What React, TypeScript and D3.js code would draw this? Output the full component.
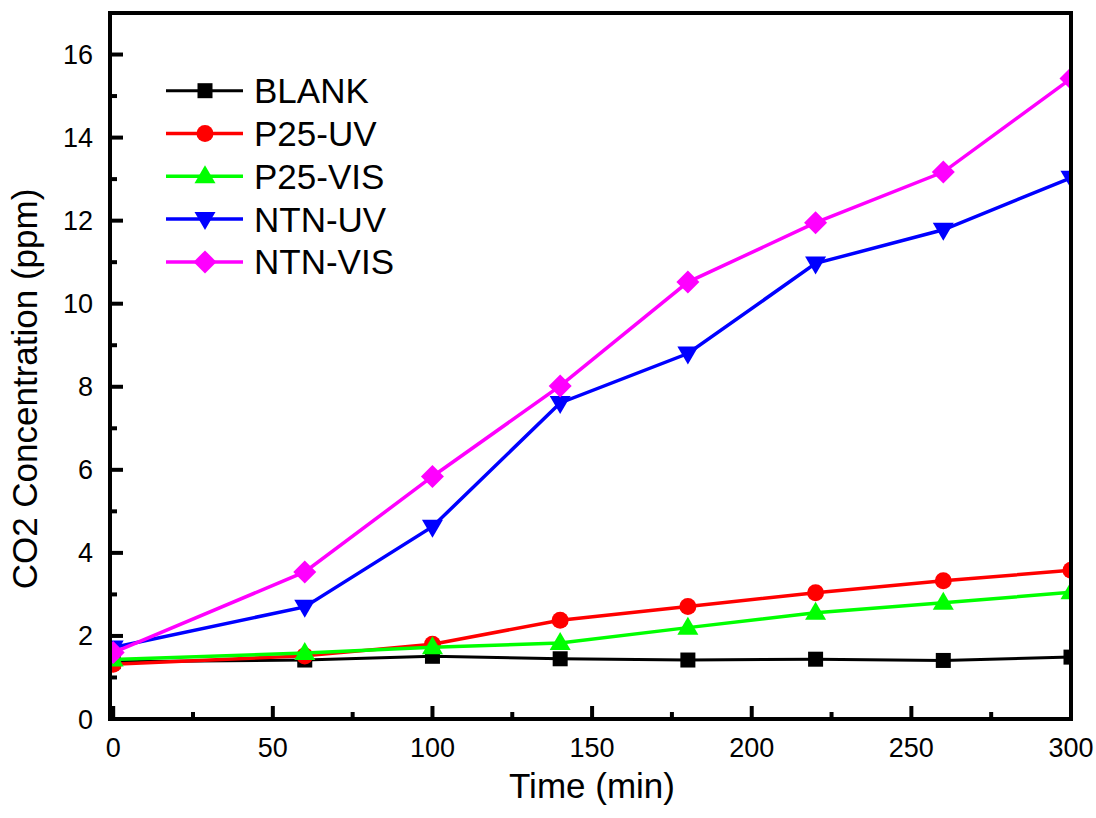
import React from "react";
import * as d3 from "d3";

const times = [0, 60, 100, 140, 180, 220, 260, 300];
const blank = [1.38, 1.42, 1.51, 1.45, 1.42, 1.44, 1.41, 1.49];
const p25uv = [1.32, 1.52, 1.8, 2.38, 2.71, 3.04, 3.33, 3.58];
const p25vis = [1.43, 1.59, 1.73, 1.83, 2.2, 2.56, 2.8, 3.05];
const ntnuv = [1.72, 2.7, 4.63, 7.61, 8.8, 10.97, 11.78, 13.03];
const ntnvis = [1.6, 3.54, 5.84, 8.02, 10.52, 11.95, 13.17, 15.42];
const seriesNames = ["BLANK", "P25-UV", "P25-VIS", "NTN-UV", "NTN-VIS"];
const seriesColors = ["#000000", "#ff0000", "#00ff00", "#0000ff", "#ff00ff"];
const seriesShapes = ["square", "circle", "triangle", "triangleDown", "diamond"];
const xTicks = [0, 50, 100, 150, 200, 250, 300];
const yTicks = [0, 2, 4, 6, 8, 10, 12, 14, 16];

const W = 1096;
const H = 818;
const L = 110, R = 1071, T = 13, B = 719;
const FONT = "'Liberation Sans', Arial, Helvetica, sans-serif";

function Marker({ shape, x, y, color }: { shape: string; x: number; y: number; color: string }) {
  if (shape === "square") return <rect x={x - 7.5} y={y - 7.5} width={15} height={15} fill={color} />;
  if (shape === "circle") return <circle cx={x} cy={y} r={8.5} fill={color} />;
  if (shape === "triangle")
    return <path d={`M${x},${y - 11} L${x + 10.5},${y + 7} L${x - 10.5},${y + 7} Z`} fill={color} />;
  if (shape === "triangleDown")
    return <path d={`M${x},${y + 11} L${x + 10.5},${y - 7} L${x - 10.5},${y - 7} Z`} fill={color} />;
  return <path d={`M${x},${y - 11.5} L${x + 11.5},${y} L${x},${y + 11.5} L${x - 11.5},${y} Z`} fill={color} />;
}

export default function App() {
  const x = d3.scaleLinear().domain([-1, 300]).range([L, R]);
  const y = d3.scaleLinear().domain([0, 17]).range([B, T]);
  const data = [blank, p25uv, p25vis, ntnuv, ntnvis];
  const line = d3
    .line<number>()
    .x((_, i) => x(times[i]))
    .y((d) => y(d));
  const xMinor = d3.range(25, 300, 50);
  const yMinor = d3.range(1, 17, 2);

  return (
    <svg width={W} height={H} style={{ position: "absolute", left: 0, top: 0 }} fontFamily={FONT}>
      <rect width={W} height={H} fill="#fff" />
      <defs>
        <clipPath id="plot">
          <rect x={L} y={T} width={R - L} height={B - T} />
        </clipPath>
      </defs>
      <g clipPath="url(#plot)">
        {data.map((vals, si) => (
          <g key={si}>
            <path d={line(vals) || ""} fill="none" stroke={seriesColors[si]} strokeWidth={si === 0 ? 3 : 3.5} />
            {vals.map((v, i) => (
              <Marker key={i} shape={seriesShapes[si]} x={x(times[i])} y={y(v)} color={seriesColors[si]} />
            ))}
          </g>
        ))}
      </g>
      {/* frame */}
      <rect x={L} y={T} width={R - L} height={B - T} fill="none" stroke="#000" strokeWidth={4} />
      {/* x ticks */}
      {xTicks.map((t) => (
        <g key={"xt" + t}>
          <line x1={x(t)} x2={x(t)} y1={B} y2={B - 13} stroke="#000" strokeWidth={4} />
          <text x={x(t)} y={757} textAnchor="middle" fontSize={27}>
            {t}
          </text>
        </g>
      ))}
      {xMinor.map((t) => (
        <line key={"xm" + t} x1={x(t)} x2={x(t)} y1={B} y2={B - 7} stroke="#000" strokeWidth={4} />
      ))}
      {yTicks.map((t) => (
        <g key={"yt" + t}>
          <line x1={L} x2={L + 13} y1={y(t)} y2={y(t)} stroke="#000" strokeWidth={4} />
          <text x={93} y={y(t) + 9.5} textAnchor="end" fontSize={27}>
            {t}
          </text>
        </g>
      ))}
      {yMinor.map((t) => (
        <line key={"ym" + t} x1={L} x2={L + 7} y1={y(t)} y2={y(t)} stroke="#000" strokeWidth={4} />
      ))}
      {/* axis titles */}
      <text x={592} y={798} textAnchor="middle" fontSize={35}>
        Time (min)
      </text>
      <text transform={`translate(37,389) rotate(-90)`} textAnchor="middle" fontSize={35}>
        CO2 Concentration (ppm)
      </text>
      {/* legend */}
      {seriesNames.map((name, i) => {
        const ly = 90.7 + i * 42.8;
        return (
          <g key={name}>
            <line x1={166} x2={243} y1={ly} y2={ly} stroke={seriesColors[i]} strokeWidth={i === 0 ? 3 : 3.5} />
            <Marker shape={seriesShapes[i]} x={205} y={ly} color={seriesColors[i]} />
            <text x={254} y={ly + 12.5} fontSize={35}>
              {name}
            </text>
          </g>
        );
      })}
    </svg>
  );
}
